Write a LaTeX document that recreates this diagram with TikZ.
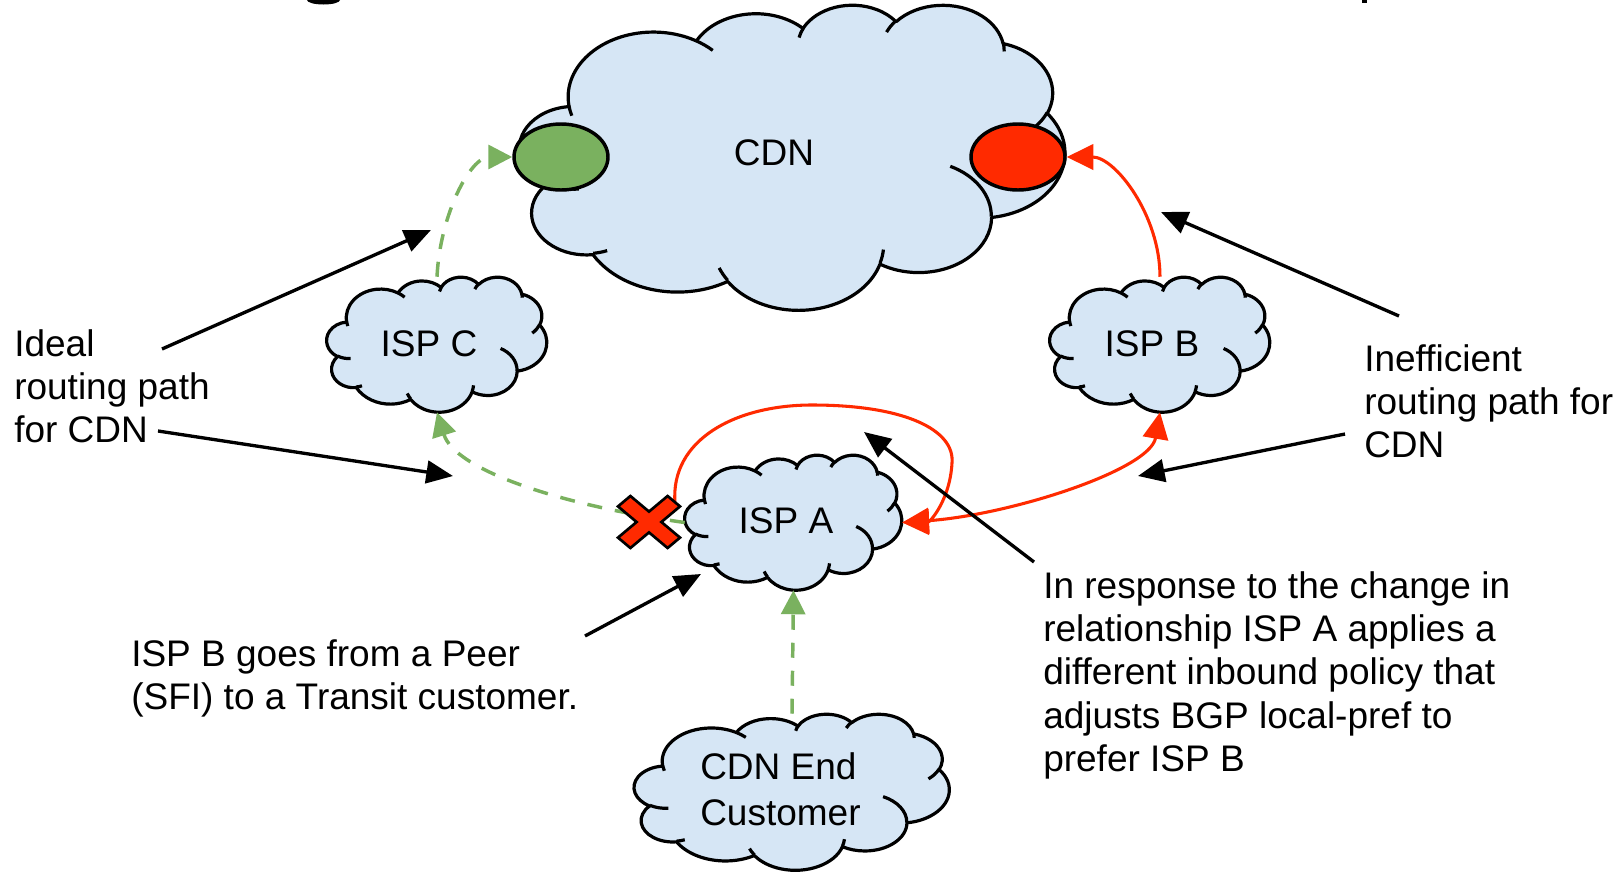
\documentclass[tikz,border=0pt]{standalone}
\usepackage{fontspec}
\setmainfont{Liberation Sans}
\usetikzlibrary{shapes.geometric,arrows.meta}
\definecolor{cloudfill}{HTML}{D6E6F5}
\definecolor{grn}{HTML}{7AB15F}
\definecolor{rdc}{HTML}{FF2A00}
% arc given DrawingML-style: radii, visual start angle, visual sweep
\newcommand\oarc[4]{arc[x radius=#1, y radius=#2,
  start angle={atan2((#1)*sin(#3),(#2)*cos(#3))},
  delta angle={atan2((#1)*sin((#3)+(#4)),(#2)*cos((#3)+(#4)))-atan2((#1)*sin(#3),(#2)*cos(#3))+360*round(((#4)-atan2((#1)*sin((#3)+(#4)),(#2)*cos((#3)+(#4)))+atan2((#1)*sin(#3),(#2)*cos(#3)))/360)}]}
\newcommand\cloudmain{(39.00,143.70) \oarc{67.53}{91.90}{-190.4875}{123.7805}
  \oarc{53.33}{72.67}{-144.1024}{89.9452} \oarc{43.65}{59.45}{-145.8079}{99.7230}
  \oarc{48.57}{65.95}{-130.9861}{117.2417} \oarc{53.33}{72.73}{-78.7089}{109.0269}
  \oarc{67.75}{92.20}{-46.2673}{130.2690} \oarc{57.85}{78.67}{0.6250}{114.0333}
  \oarc{67.52}{92.15}{22.4516}{115.1726} \oarc{77.20}{105.43}{66.2426}{75.7110}
  \oarc{43.60}{59.18}{-274.9421}{146.7356} \oarc{43.45}{59.45}{-246.8285}{152.5189} -- cycle}
\newcommand\cloudinner{(46.93,261.77) \oarc{43.45}{59.45}{86.7420}{26.4295}
  (69.28,348.99) \oarc{43.60}{59.18}{73.6105}{11.4475}
  (164.78,390.90) \oarc{67.52}{92.15}{137.6242}{14.0811}
  (288.27,347.51) \oarc{67.52}{92.15}{6.4533}{15.9984}
  (341.29,229.54) \oarc{57.85}{78.67}{-70.2924}{70.9174}
  (417.98,153.54) \oarc{53.33}{72.73}{30.3180}{27.7515}
  (383.24,54.26) \oarc{48.57}{65.95}{-13.7443}{14.8589}
  (290.78,39.52) \oarc{48.57}{65.95}{-149.1815}{18.1954}
  (221.41,47.20) \oarc{43.65}{59.45}{-163.4943}{17.6864}
  (140.00,51.92) \oarc{67.53}{91.90}{-66.7070}{12.3194}
  (41.27,157.89) \oarc{67.53}{91.90}{157.6544}{11.8532}}
% #1 node name, #2 x unit, #3 y unit
\newcommand\drawcloud[3]{%
  \begin{scope}[shift={(#1.north west)}, x=#2, y=-#3, line width=2.4pt, line join=round]
    \filldraw[fill=cloudfill, draw=black] \cloudmain;
    \draw[black] \cloudinner;
  \end{scope}}
\begin{document}
\begin{tikzpicture}[x=0.75pt,y=-0.75pt,
  txt/.style={font=\fontsize{27.75}{32.5}\selectfont, inner sep=0pt, align=left, anchor=north west},
  lbl/.style={font=\fontsize{27.75}{32.5}\selectfont, inner sep=0pt},
  box/.style={rectangle, inner sep=0pt, draw=none},
  oval/.style={ellipse, draw=black, line width=2.6pt, minimum width=70.5pt, minimum height=49.5pt, inner sep=0pt},
  note/.style={black, line width=2.5pt, -{Triangle[length=20pt,width=17pt]}},
  grnarrow/.style={grn, line width=2.6pt, dash pattern=on 11.25pt off 9.75pt, -{Triangle[length=18pt,width=18pt]}},
  redarrow/.style={rdc, line width=2.3pt, -{Triangle[length=20pt,width=19pt]}},
]
\useasboundingbox (0,0) rectangle (1622,872);

% cut-off bits of the title above the picture
\fill[black] (340,0) arc[start angle=0, end angle=180, x radius=16.5, y radius=4.5] -- cycle;
\fill[black] (1362,0) rectangle (1367,3);

% cloud frames (named nodes) and their drawn outlines
\node[box, minimum width=408.75pt, minimum height=228.75pt] (cdn) at (792.5,157) {};
\node[box, minimum width=165pt, minimum height=101.25pt] (iC) at (437,344.5) {};
\node[box, minimum width=165pt, minimum height=101.25pt] (iB) at (1160,344.5) {};
\node[box, minimum width=162.75pt, minimum height=101.25pt] (iA) at (793.5,522.5) {};
\node[box, minimum width=236.25pt, minimum height=117pt] (iE) at (792,792) {};
\drawcloud{cdn}{0.94618pt}{0.52951pt}
\drawcloud{iC}{0.38194pt}{0.23438pt}
\drawcloud{iB}{0.38194pt}{0.23438pt}
\drawcloud{iA}{0.37674pt}{0.23438pt}
\drawcloud{iE}{0.54688pt}{0.27083pt}

% cloud texts
\node[lbl] (cdnlabel) at (774,153) {CDN};
\node[lbl] (iClabel) at (429,344) {ISP C};
\node[lbl] (iBlabel) at (1152,344) {ISP B};
\node[lbl] (iAlabel) at (786,521) {ISP A};
\node[txt, font=\fontsize{27.75}{34.5}\selectfont] (iElabel) at (700,752) {CDN End\\Customer};

% ellipses in the CDN cloud
\node[oval, fill=grn] (gE) at (561,157) {};
\node[oval, fill=rdc] (rE) at (1018,157) {};

% green dashed paths
\draw[grnarrow] (iC.north) .. controls (440,215) and (470,157) .. (gE.west);
\draw[grnarrow] (iA.west) .. controls (560,505) and (455,470) .. (iC.south);
\draw[grnarrow] (iE.north) -- (iA.south);

% red paths
\draw[redarrow] (iB.north) .. controls (1160,215) and (1115,157) .. (rE.east);
\draw[redarrow, {Triangle[length=20pt,width=19pt]}-{Triangle[length=20pt,width=19pt]}]
  (iA.east) .. controls (1010,515) and (1150,470) .. (iB.south);
\coordinate (loopstart) at (675,503);
\draw[redarrow] (loopstart) .. controls (670,440) and (735,405) .. (812,405)
  .. controls (905,405) and (955,430) .. (952,463)
  .. controls (950,500) and (930,522) .. (iA.east);

% red X
\coordinate (xm) at (649,522);
\begin{scope}[shift={(xm)}, xscale=31, yscale=26]
  \filldraw[fill=rdc, draw=black, line width=2pt, line join=miter]
    (-1,-0.6) -- (-0.4,0) -- (-1,0.6) -- (-0.6,1) -- (0,0.4) -- (0.6,1) -- (1,0.6)
    -- (0.4,0) -- (1,-0.6) -- (0.6,-1) -- (0,-0.4) -- (-0.6,-1) -- cycle;
\end{scope}

% annotation texts
\node[txt] (tIdeal) at (14,329) {Ideal\\routing path\\for CDN};
\node[txt] (tIneff) at (1364,344) {Inefficient\\routing path for\\CDN};
\node[txt] (tPeer) at (131,639) {ISP B goes from a Peer\\(SFI) to a Transit customer.};
\node[txt] (tResp) at (1043,571) {In response to the change in\\relationship ISP A applies a\\different inbound policy that\\adjusts BGP local-pref to\\prefer ISP B};

% annotation arrows
\coordinate (a1s) at (162,349); \coordinate (a1e) at (431,230);
\coordinate (a2s) at (158,431); \coordinate (a2e) at (453,476);
\coordinate (a3s) at (1399,316); \coordinate (a3e) at (1161,212);
\coordinate (a4s) at (1345,434); \coordinate (a4e) at (1138,476);
\coordinate (a5s) at (1034,562); \coordinate (a5e) at (864,432);
\coordinate (a6s) at (585,636); \coordinate (a6e) at (701,574);
\draw[note] (a1s) -- (a1e);
\draw[note] (a2s) -- (a2e);
\draw[note] (a3s) -- (a3e);
\draw[note] (a4s) -- (a4e);
\draw[note] (a5s) -- (a5e);
\draw[note] (a6s) -- (a6e);
\end{tikzpicture}
\end{document}
